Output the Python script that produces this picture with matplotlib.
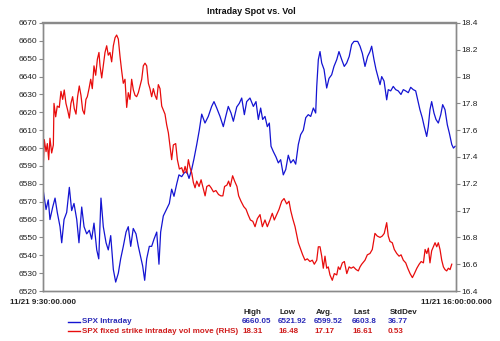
import matplotlib
matplotlib.use("Agg")
import matplotlib.pyplot as plt
import numpy as np

plt.rcParams['font.family'] = ['Liberation Sans', 'DejaVu Sans']

# minutes after 9:30 and SPX level
spx_min = [0, 2.6, 4.7, 6.3, 8.9, 11.1, 13.2, 15.8, 17.4, 19.6, 22.1, 24.6, 26.8, 29, 31.6,
           33.7, 36.3, 38.5, 41, 43.5, 45.7, 47.9, 50.5, 52.4, 54.5, 56.7, 59.3, 61.4, 63.7,
           66.2, 68.4, 70.9, 73.1, 75.6, 78.2, 80.3, 82.6, 85, 87.6, 89.8, 92, 93.9, 95.8,
           97.7, 100.2, 102.4, 104.6, 107.2, 109.3, 110.9, 113.4, 116.6, 119.1, 121.3, 123.5,
           126.1, 128.2, 130.8, 133, 135.5, 137.7, 140.2, 142.4, 145, 147.4, 149.7, 152.8,
           155.9, 159.1, 161.3, 163.9, 167, 170.1, 172.4, 174.8, 177.4, 179.6, 182.8, 185.2,
           187.5, 190, 192.2, 195.3, 198.5, 201, 203.2, 205.4, 207.3, 209.5, 211.7, 213.6,
           215.2, 217.4, 219.9, 222.1, 224.3, 226.8, 229.1, 231.5, 233.8, 236.3, 238.5, 241,
           243.2, 245.7, 248, 250.4, 252.7, 255.2, 257.4, 258.4, 259.9, 261.5, 263.1, 265.3,
           267.8, 270, 272.5, 274.7, 277.3, 279.4, 282, 284.4, 286.7, 289.1, 291.4, 293.6,
           297.1, 299.3, 301.5, 304, 306.5, 308.7, 310.3, 312.5, 314.4, 316.6, 318.2, 319.8,
           322, 324.5, 326, 328.3, 330.7, 333, 335.4, 338, 340.2, 342.4, 344.9, 347.2, 349.6,
           351.9, 353.8, 355.9, 358.1, 360, 362.3, 363.8, 365.4, 367, 369.2, 371.1, 373.3,
           375.6, 377.4, 379.6, 381.8, 383.7, 386, 387.6, 389.2]
spx_val = [6576, 6565.6, 6571, 6560, 6567, 6572, 6564, 6556, 6547, 6560, 6564, 6578, 6565,
           6569, 6560, 6547, 6567, 6556, 6552, 6554, 6549, 6558, 6543, 6538, 6572, 6556, 6547,
           6543, 6551, 6532, 6525, 6530, 6538, 6545, 6553, 6556, 6545, 6555, 6552, 6545, 6539,
           6534, 6526, 6538, 6545, 6545, 6549, 6553, 6535, 6553, 6562, 6566, 6569, 6577, 6573,
           6580, 6585, 6584, 6586, 6587, 6583, 6588, 6594, 6602, 6610, 6619, 6614, 6617.7,
           6623.3, 6626, 6622.4, 6617.7, 6612, 6617.7, 6623.3, 6619.6, 6615, 6623, 6625, 6628,
           6618.7, 6626, 6628, 6623.3, 6626, 6616, 6622.4, 6616, 6617.7, 6612, 6614, 6601,
           6598, 6595, 6591.7, 6593.5, 6585, 6588, 6596, 6591.7, 6593.5, 6591, 6602, 6607.5,
           6610, 6617, 6618.7, 6617.7, 6622.4, 6619.6, 6634.5, 6649.5, 6654, 6647.6, 6644,
           6633.6, 6639, 6641, 6645.7, 6649.5, 6654, 6649.5, 6645.7, 6647.6, 6651.3, 6658,
           6659.7, 6659.7, 6657, 6653, 6645.7, 6651.3, 6654, 6657, 6649.5, 6644, 6639, 6635.5,
           6640, 6637.5, 6627, 6632.7, 6632, 6634.5, 6632.7, 6632, 6630, 6632.7, 6632, 6631,
           6634, 6632.7, 6632, 6627, 6621.5, 6617, 6612, 6606.5, 6612, 6621.5, 6626, 6619.6,
           6616, 6614, 6618.7, 6624.3, 6621.5, 6613, 6608.4, 6602, 6600, 6601]

# minutes after 9:30 and fixed strike vol (RHS)
vol_min = [0, 0.9, 2.6, 3.8, 5.1, 6.3, 7.9, 9.5, 10.1, 11.7, 13.2, 15.1, 16.7, 18.3, 19.8,
           21.4, 23, 24.6, 26.1, 27.7, 29.3, 30.9, 32.4, 34, 35.6, 37.2, 38.8, 40.3, 41.6,
           43.2, 44.8, 46.3, 47.9, 49.5, 51.1, 52.6, 53.6, 55.2, 56.7, 58.3, 59.9, 61.4, 63,
           64.6, 66.2, 67.8, 69.3, 70.9, 72.5, 74.1, 75.6, 77.2, 78.8, 80.3, 81.9, 83.5, 85.1,
           86.7, 88.2, 89.8, 91.4, 93, 94.5, 96.1, 97.7, 99.3, 100.8, 102.4, 104, 105.6, 107.2,
           108.7, 110.3, 111.9, 113.4, 115, 116.6, 118.2, 119.8, 121.3, 122.9, 125.1, 126.7,
           128.6, 130.8, 132.4, 134, 135.5, 137.1, 138.7, 140.3, 141.8, 143.4, 145, 147.2,
           149.1, 151.3, 152.9, 154.5, 156.7, 158.6, 160.8, 163.1, 165.6, 167.8, 169.7, 171.3,
           173.5, 175.1, 176.7, 178.9, 180.8, 183, 184.6, 186.8, 189.4, 191.6, 193.5, 195.7,
           198, 200.1, 202.3, 204.8, 207, 209.5, 211.7, 214.2, 216.4, 218.3, 220.6, 222.8,
           225.3, 227.5, 230, 232.2, 233.8, 235.7, 237.9, 239.5, 241, 243.3, 245.1, 247.3,
           249.5, 252, 254.2, 256.1, 258.4, 259.9, 261.5, 263.1, 264.6, 266.2, 267.8, 269.3,
           270.9, 273.1, 275, 277.3, 278.8, 280.4, 282.6, 284.5, 286.8, 289, 290.9, 293.1,
           295.6, 297.7, 299.3, 300.9, 304, 306.2, 308.7, 310.9, 313.4, 315.6, 318.2, 320.3,
           322.2, 324.5, 326, 327.6, 329.8, 331.7, 334, 336.2, 338.1, 340.2, 342.5, 344.4,
           346.6, 348.8, 350.7, 353, 355.2, 357.1, 359.2, 360.8, 362.4, 363.9, 365.4, 367,
           368.6, 370.2, 371.8, 373.3, 374.9, 376.5, 378.1, 379.6, 381.2, 382.8, 384.4, 386]
vol_val = [17.34, 17.53, 17.44, 17.50, 17.38, 17.54, 17.43, 17.49, 17.80, 17.70, 17.78, 17.77,
           17.89, 17.83, 17.90, 17.80, 17.75, 17.69, 17.80, 17.85, 17.76, 17.72, 17.85, 17.93,
           17.86, 17.75, 17.72, 17.83, 17.85, 17.91, 17.98, 17.91, 18.08, 18.01, 18.13, 18.18,
           18.08, 17.99, 18.08, 18.18, 18.23, 18.16, 18.18, 18.11, 18.23, 18.29, 18.31, 18.28,
           18.15, 18.04, 17.95, 17.98, 17.77, 17.88, 17.83, 17.98, 17.90, 17.86, 17.85, 17.88,
           17.93, 17.98, 18.08, 18.10, 18.08, 17.95, 17.91, 17.85, 17.91, 17.86, 17.83, 17.94,
           17.91, 17.78, 17.75, 17.72, 17.64, 17.58, 17.48, 17.38, 17.49, 17.50, 17.38, 17.31,
           17.32, 17.28, 17.33, 17.28, 17.38, 17.32, 17.28, 17.21, 17.17, 17.22, 17.18, 17.23,
           17.16, 17.11, 17.18, 17.19, 17.17, 17.14, 17.15, 17.12, 17.11, 17.11, 17.18, 17.19,
           17.22, 17.18, 17.26, 17.22, 17.18, 17.11, 17.07, 17.03, 17.01, 16.97, 16.93, 16.92,
           16.88, 16.94, 16.97, 16.88, 16.93, 16.88, 16.93, 16.98, 16.93, 16.97, 17.01, 17.07,
           17.09, 17.05, 17.07, 17.00, 16.94, 16.88, 16.82, 16.76, 16.71, 16.67, 16.63, 16.64,
           16.62, 16.63, 16.60, 16.63, 16.73, 16.73, 16.66, 16.57, 16.66, 16.57, 16.58, 16.52,
           16.48, 16.53, 16.52, 16.58, 16.56, 16.61, 16.62, 16.53, 16.58, 16.57, 16.58, 16.56,
           16.55, 16.58, 16.60, 16.63, 16.67, 16.68, 16.71, 16.83, 16.81, 16.80, 16.81, 16.83,
           16.91, 16.81, 16.77, 16.76, 16.71, 16.68, 16.66, 16.67, 16.63, 16.61, 16.57, 16.53,
           16.50, 16.53, 16.57, 16.60, 16.62, 16.61, 16.71, 16.68, 16.72, 16.61, 16.70, 16.73,
           16.76, 16.73, 16.76, 16.71, 16.63, 16.58, 16.56, 16.55, 16.57, 16.56, 16.60]

x_labels = ["11/21 9:30:00.000", "11/21 16:00:00.000"]
stat_names = ["High", "Low", "Avg.", "Last", "StdDev"]
spx_stats = ["6660.05", "6521.92", "6599.52", "6603.8", "36.77"]
vol_stats = ["18.31", "16.48", "17.17", "16.61", "0.53"]
series_names = ["SPX Intraday", "SPX fixed strike intraday vol move (RHS)"]

BLUE = "#1414d2"
RED = "#e80c0c"
BLUE_TXT = "#2b2bb8"
RED_TXT = "#d01c1c"
GRAY = "#8a8a8a"

fig = plt.figure(figsize=(5.0, 3.41), dpi=100)
ax = fig.add_axes([0.0866, 0.1466, 0.8254, 0.786])
ax2 = ax.twinx()

ax.plot(spx_min, spx_val, color=BLUE, lw=0.9)
ax2.plot(vol_min, vol_val, color=RED, lw=0.9)

ax.set_xlim(0, 390)
ax.set_ylim(6520, 6670)
ax2.set_ylim(16.4, 18.4)
ax.set_yticks(np.arange(6520, 6671, 10))
ax2.set_yticks(np.arange(16.4, 18.41, 0.2))
ax2.set_yticklabels([f"{v:g}" for v in np.round(np.arange(16.4, 18.41, 0.2), 1)])
ax.set_xticks([0, 390])
ax.set_xticklabels(x_labels, fontweight="bold", fontsize=5.8, color="#222222")

for a in (ax, ax2):
    for sp in a.spines.values():
        sp.set_color(GRAY)
        sp.set_linewidth(1.0)
    a.spines["top"].set_linewidth(1.6)
    a.tick_params(axis="y", direction="out", length=3, width=0.8, color=GRAY,
                  labelsize=6, labelcolor="#222222", pad=1)
ax.tick_params(axis="x", length=0, pad=6)

fig.text(0.502, 0.966, "Intraday Spot vs. Vol", ha="center", va="center",
         fontsize=6.5, fontweight="bold", color="#111111")

# legend and statistics block
y_head, y1, y2 = 0.085, 0.056, 0.028
col_x = [0.484, 0.556, 0.628, 0.704, 0.776]
for cx, name in zip(col_x, stat_names):
    fig.text(cx + 0.003, y_head, name, fontsize=5.8, fontweight="bold", color="#222222",
             ha="left", va="center")
for row_y, col, txt_col, name, vals in ((y1, BLUE, BLUE_TXT, series_names[0], spx_stats),
                                        (y2, RED, RED_TXT, series_names[1], vol_stats)):
    fig.add_artist(plt.Line2D([0.136, 0.16], [row_y, row_y], color=col, lw=1.0,
                              transform=fig.transFigure))
    fig.text(0.164, row_y, name, fontsize=5.8, fontweight="bold", color=txt_col,
             ha="left", va="center")
    for cx, v in zip(col_x, vals):
        fig.text(cx, row_y, v, fontsize=5.8, fontweight="bold", color=txt_col,
                 ha="left", va="center")

fig.savefig("out.png", dpi=100, facecolor="white")
